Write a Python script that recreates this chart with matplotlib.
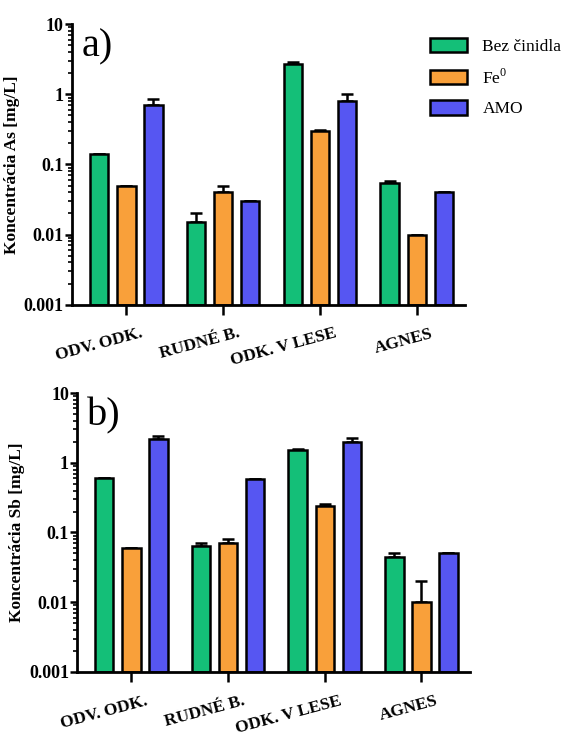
import numpy as np
import matplotlib.pyplot as plt
from matplotlib.transforms import ScaledTranslation
from matplotlib.ticker import LogLocator, FixedFormatter, FixedLocator, NullFormatter

plt.rcParams['font.family'] = ['Liberation Serif', 'DejaVu Serif']
plt.rcParams['mathtext.fontset'] = 'custom'
plt.rcParams['mathtext.rm'] = 'Liberation Serif'

sites = ['ODV. ODK.', 'RUDNÉ B.', 'ODK. V LESE', 'AGNES']
series = ['Bez činidla', 'Fe$^{0}$', 'AMO']
colors = ['#14bf78', '#f9a03a', '#5656f2']

# arsenic concentrations [mg/L] and upper error lengths
as_bez = [0.14, 0.015, 2.7, 0.055]
as_bez_err = [0.0, 0.005, 0.2, 0.003]
as_fe = [0.05, 0.04, 0.3, 0.01]
as_fe_err = [0.0, 0.01, 0.01, 0.0]
as_amo = [0.7, 0.03, 0.8, 0.04]
as_amo_err = [0.15, 0.0, 0.2, 0.0]

# antimony concentrations [mg/L]
sb_bez = [0.6, 0.065, 1.5, 0.045]
sb_bez_err = [0.0, 0.005, 0.1, 0.005]
sb_fe = [0.06, 0.07, 0.24, 0.01]
sb_fe_err = [0.0, 0.01, 0.02, 0.01]
sb_amo = [2.2, 0.58, 2.0, 0.05]
sb_amo_err = [0.25, 0.0, 0.25, 0.0]

YMIN = 0.001


def draw_panel(ax, vals, errs, ylabel, tag):
    x = np.arange(len(sites))
    offs = [-0.28, 0.0, 0.28]
    handles = []
    for v, e, c, o, lab in zip(vals, errs, colors, offs, series):
        v = np.array(v)
        b = ax.bar(x + o, v - YMIN, width=0.19, bottom=YMIN, color=c,
                   edgecolor='black', linewidth=1.8, label=lab, zorder=2)
        ax.errorbar(x + o, v, yerr=[np.zeros(len(v)), e], fmt='none',
                    ecolor='black', elinewidth=1.8, capsize=4, capthick=1.8,
                    zorder=1)
        handles.append(b)
    ax.set_yscale('log')
    ax.set_ylim(YMIN, 10)
    ax.set_xlim(-0.56, 3.5)
    ax.yaxis.set_major_locator(FixedLocator([0.001, 0.01, 0.1, 1, 10]))
    ax.yaxis.set_major_formatter(FixedFormatter(['0.001', '0.01', '0.1', '1', '10']))
    ax.yaxis.set_minor_locator(LogLocator(base=10, subs=np.arange(2, 10)))
    ax.yaxis.set_minor_formatter(NullFormatter())
    ax.set_xticks(x)
    ax.set_xticklabels(sites, rotation=15, ha='right', rotation_mode='anchor',
                       fontweight='bold', fontsize=12.5)
    for lab in ax.get_yticklabels():
        lab.set_fontweight('bold')
        lab.set_fontsize(13)
    ax.tick_params(axis='y', which='major', length=5, width=1.8, pad=1)
    ax.tick_params(axis='y', which='minor', length=3, width=1.2)
    ax.tick_params(axis='x', length=7, width=1.8, pad=8)
    for s in ['top', 'right']:
        ax.spines[s].set_visible(False)
    for s in ['left', 'bottom']:
        ax.spines[s].set_linewidth(2)
    ax.set_ylabel(ylabel, fontweight='bold', fontsize=12.5, labelpad=3)
    ax.text(0.025, 0.985, tag, transform=ax.transAxes, fontsize=29,
            va='top', ha='left')
    return handles


fig = plt.figure(figsize=(5.68, 7.36), dpi=100)
ax1 = fig.add_axes([0.127, 0.586, 0.692, 0.381])
ax2 = fig.add_axes([0.136, 0.087, 0.691, 0.379])

h = draw_panel(ax1, [as_bez, as_fe, as_amo], [as_bez_err, as_fe_err, as_amo_err],
               'Koncentrácia As [mg/L]', 'a)')
draw_panel(ax2, [sb_bez, sb_fe, sb_amo], [sb_bez_err, sb_fe_err, sb_amo_err],
           'Koncentrácia Sb [mg/L]', 'b)')

shift = ScaledTranslation(0.14, 0, fig.dpi_scale_trans)
for lab in ax1.get_xticklabels() + ax2.get_xticklabels():
    lab.set_transform(lab.get_transform() + shift)

fig.legend(h, series, loc='upper left', bbox_to_anchor=(0.73, 0.97),
           frameon=False, fontsize=12.5, handlelength=2.1, handleheight=0.9,
           labelspacing=0.75, handletextpad=0.9)

fig.savefig('out.png', dpi=100)
